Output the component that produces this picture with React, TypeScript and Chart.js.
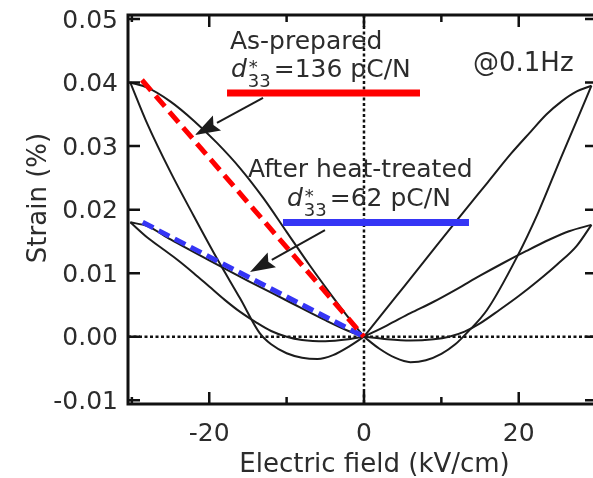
import { useEffect, useRef } from "react";
import { Chart, registerables } from "chart.js";

Chart.register(...registerables);

type P = [number, number];

// Electric field (kV/cm), Strain (%)
// As-prepared loop
const apLeftSteep: P[] = [
  [-30.2, 0.04], [-28, 0.0335], [-25, 0.0259], [-22, 0.019], [-19, 0.0123],
  [-16, 0.006], [-13.5, 0.0006], [-12, -0.0012], [-10, -0.0026], [-8, -0.0033],
  [-6, -0.0035], [-4, -0.0029], [-2, -0.0016], [0, 0],
];
const apLeftUpper: P[] = [
  [-30.2, 0.04], [-28, 0.0392], [-25, 0.037], [-22, 0.034], [-19, 0.0305],
  [-16, 0.0265], [-13, 0.0218], [-10, 0.0165], [-7, 0.0112], [-4, 0.0062],
  [-2, 0.003], [0, 0],
];
const apRightSteep: P[] = [
  [0, 0], [2, -0.0019], [4, -0.0033], [6, -0.004], [8, -0.0037], [10, -0.0027],
  [11.8, -0.0012], [13.3, 0.0006], [15.9, 0.0042], [19.8, 0.0126], [22.5, 0.0195],
  [25.4, 0.028], [27.5, 0.034], [29.4, 0.0395],
];
const apRightUpper: P[] = [
  [0, 0], [4, 0.0061], [8, 0.0122], [12, 0.0183], [16, 0.0243], [19, 0.0288],
  [21.5, 0.0322], [23.6, 0.035], [25.5, 0.037], [27.5, 0.0386], [29.4, 0.0395],
];
// After heat-treated loop
const htLeftUpper: P[] = [
  [-30.2, 0.018], [-28, 0.0174], [-25, 0.0153], [-20, 0.012], [-15, 0.0088],
  [-10, 0.0057], [-5, 0.0026], [-2, 0.0009], [0, 0],
];
const htLeftLower: P[] = [
  [-30.2, 0.018], [-28, 0.0156], [-26, 0.0138], [-24, 0.012], [-22, 0.01],
  [-20, 0.0079], [-18, 0.0058], [-16, 0.0039], [-14, 0.0023], [-12, 0.0009],
  [-10, 0.0], [-8, -0.0005], [-5, -0.0007], [-2, -0.0004], [0, 0],
];
const htRightUpper: P[] = [
  [0, 0], [3, 0.0018], [6, 0.0037], [9, 0.0055], [12, 0.0075], [15, 0.0096],
  [18, 0.0116], [21, 0.0135], [24, 0.0153], [26.5, 0.0166], [29.4, 0.0176],
];
const htRightLower: P[] = [
  [0, 0], [3, -0.0004], [6, -0.0006], [9, -0.0004], [11, 0.0], [13, 0.0008],
  [15, 0.0021], [17.5, 0.0042], [20, 0.0064], [22.5, 0.0088], [25, 0.0114],
  [27.5, 0.0143], [29.4, 0.0176],
];
// d33* slope lines
const apSlope: P[] = [[-28.7, 0.0404], [0, 0]];
const htSlope: P[] = [[-28.6, 0.018], [0, 0]];
// legend bars under the annotations
const apBar: P[] = [[-17.7, 0.03835], [7.24, 0.03835]];
const htBar: P[] = [[-10.47, 0.01797], [13.57, 0.01797]];
// arrows: from -> tip
const arrowFrom: P[] = [[-13.05, 0.03757], [-5.04, 0.01679]];
const arrowTo: P[] = [[-21.84, 0.03176], [-14.73, 0.01018]];

// ticks
const fieldTicks = [-30, -20, -10, 0, 10, 20];
const fieldLabels = [-20, 0, 20];
const strainTicks = [-0.01, 0, 0.01, 0.02, 0.03, 0.04, 0.05];

const TXT = "#2c2c2c";
const FONT = '"DejaVu Sans"';

const toXY = (arr: P[]) => arr.map(([x, y]) => ({ x, y }));

const curve = (arr: P[]) => ({
  data: toXY(arr),
  borderColor: "#1c1c1c",
  borderWidth: 2,
  pointRadius: 0,
  cubicInterpolationMode: "monotone" as const,
  fill: false,
});

const drawLabel = (
  ctx: CanvasRenderingContext2D,
  x: number,
  y: number,
  tail: string
) => {
  ctx.font = `italic 25px ${FONT}`;
  ctx.fillText("d", x, y);
  const w = ctx.measureText("d").width;
  ctx.font = `18px ${FONT}`;
  ctx.fillText("*", x + w + 2, y - 4);
  ctx.fillText("33", x + w + 1, y + 10);
  const w2 = ctx.measureText("33").width;
  ctx.font = `25px ${FONT}`;
  ctx.fillText(tail, x + w + w2 + 4, y);
};

const framePlugin = {
  id: "framePlugin",
  beforeDatasetsDraw(chart: any) {
    const { ctx, chartArea: a, scales } = chart;
    const x0 = scales.x.getPixelForValue(0);
    const y0 = scales.y.getPixelForValue(0);
    ctx.save();
    ctx.strokeStyle = "#111";
    ctx.lineWidth = 2.5;
    ctx.setLineDash([3, 2.5]);
    ctx.beginPath();
    ctx.moveTo(a.left, y0);
    ctx.lineTo(a.right, y0);
    ctx.moveTo(x0, a.top);
    ctx.lineTo(x0, a.bottom);
    ctx.stroke();
    ctx.restore();
  },
  afterDatasetsDraw(chart: any) {
    const { ctx, chartArea: a, scales } = chart;
    const sx = scales.x;
    const sy = scales.y;
    ctx.save();
    // arrows
    ctx.strokeStyle = "#1c1c1c";
    ctx.fillStyle = "#1c1c1c";
    ctx.lineWidth = 2;
    arrowFrom.forEach((f, i) => {
      const t = arrowTo[i];
      const x1 = sx.getPixelForValue(f[0]);
      const y1 = sy.getPixelForValue(f[1]);
      const x2 = sx.getPixelForValue(t[0]);
      const y2 = sy.getPixelForValue(t[1]);
      const ang = Math.atan2(y2 - y1, x2 - x1);
      const L = 25;
      const W = 8.5;
      const bx = x2 - L * Math.cos(ang);
      const by = y2 - L * Math.sin(ang);
      ctx.beginPath();
      ctx.moveTo(x1, y1);
      ctx.lineTo(bx, by);
      ctx.stroke();
      ctx.beginPath();
      ctx.moveTo(x2, y2);
      ctx.lineTo(bx + W * Math.sin(ang), by - W * Math.cos(ang));
      ctx.lineTo(bx + 4 * Math.cos(ang), by + 4 * Math.sin(ang));
      ctx.lineTo(bx - W * Math.sin(ang), by + W * Math.cos(ang));
      ctx.closePath();
      ctx.fill();
    });

    // annotation texts
    ctx.fillStyle = TXT;
    ctx.textAlign = "left";
    ctx.textBaseline = "alphabetic";
    ctx.font = `25px ${FONT}`;
    ctx.fillText("As-prepared", sx.getPixelForValue(-17.32), sy.getPixelForValue(0.04528));
    drawLabel(ctx, sx.getPixelForValue(-17.19), sy.getPixelForValue(0.04087), "=136 pC/N");
    ctx.font = `26px ${FONT}`;
    ctx.fillText("@0.1Hz", sx.getPixelForValue(14.09), sy.getPixelForValue(0.04182));
    ctx.font = `25px ${FONT}`;
    ctx.fillText("After heat-treated", sx.getPixelForValue(-14.99), sy.getPixelForValue(0.02513));
    drawLabel(ctx, sx.getPixelForValue(-9.95), sy.getPixelForValue(0.02057), "=62 pC/N");

    // frame
    ctx.strokeStyle = "#111";
    ctx.lineWidth = 3;
    ctx.beginPath();
    ctx.moveTo(a.right + 2, a.top);
    ctx.lineTo(a.left, a.top);
    ctx.lineTo(a.left, a.bottom);
    ctx.lineTo(a.right + 2, a.bottom);
    ctx.stroke();

    // inward ticks
    ctx.lineWidth = 2.5;
    ctx.beginPath();
    strainTicks.forEach((v) => {
      const py = sy.getPixelForValue(v);
      ctx.moveTo(a.left, py);
      ctx.lineTo(a.left + 12, py);
      ctx.moveTo(a.right, py);
      ctx.lineTo(a.right - 8, py);
    });
    fieldTicks.forEach((v) => {
      const px = sx.getPixelForValue(v);
      const len = fieldLabels.includes(v) ? 12 : 7;
      ctx.moveTo(px, a.bottom);
      ctx.lineTo(px, a.bottom - len);
      ctx.moveTo(px, a.top);
      ctx.lineTo(px, a.top + len);
    });
    ctx.stroke();

    // axis titles
    ctx.fillStyle = TXT;
    ctx.font = `26px ${FONT}`;
    ctx.textAlign = "center";
    ctx.textBaseline = "alphabetic";
    ctx.fillText("Electric field (kV/cm)", 374.5, 472);
    ctx.save();
    ctx.translate(39, 198);
    ctx.rotate(-Math.PI / 2);
    ctx.textBaseline = "middle";
    ctx.fillText("Strain (%)", 0, 0);
    ctx.restore();
    ctx.restore();
  },
};

export default function App() {
  const ref = useRef<HTMLCanvasElement | null>(null);
  useEffect(() => {
    if (!ref.current) return;
    const chart = new Chart(ref.current, {
      type: "line",
      data: {
        datasets: [
          {
            data: toXY(apSlope),
            borderColor: "#ff0000",
            borderWidth: 5,
            borderDash: [14, 7],
            pointRadius: 0,
            tension: 0,
          },
          {
            data: toXY(htSlope),
            borderColor: "#3535f5",
            borderWidth: 5,
            borderDash: [12, 6],
            pointRadius: 0,
            tension: 0,
          },
          {
            data: toXY(apBar),
            borderColor: "#ff0000",
            borderWidth: 7,
            pointRadius: 0,
          },
          {
            data: toXY(htBar),
            borderColor: "#3535f5",
            borderWidth: 7,
            pointRadius: 0,
          },
          curve(apLeftSteep),
          curve(apLeftUpper),
          curve(apRightSteep),
          curve(apRightUpper),
          curve(htLeftUpper),
          curve(htLeftLower),
          curve(htRightUpper),
          curve(htRightLower),
        ] as any,
      },
      options: {
        animation: false,
        responsive: false,
        maintainAspectRatio: false,
        layout: { padding: { top: 15, right: 0, bottom: 0, left: 0 } },
        plugins: {
          legend: { display: false },
          tooltip: { enabled: false },
          title: { display: false },
        },
        events: [],
        scales: {
          x: {
            type: "linear",
            min: -30.5,
            max: 29.6,
            grid: { display: false, drawTicks: false },
            border: { display: false },
            afterBuildTicks: (s: any) => {
              s.ticks = fieldTicks.map((v) => ({ value: v }));
            },
            afterFit: (s: any) => {
              s.height = 74;
              s.paddingLeft = 0;
              s.paddingRight = 0;
              s.paddingTop = 0;
              s.paddingBottom = 0;
            },
            ticks: {
              padding: 15,
              color: TXT,
              font: { family: FONT, size: 25, lineHeight: 1.2 },
              maxRotation: 0,
              autoSkip: false,
              callback: (v: any) => (fieldLabels.includes(Number(v)) ? String(v) : ""),
            },
          },
          y: {
            type: "linear",
            min: -0.01059,
            max: 0.05063,
            grid: { display: false, drawTicks: false },
            border: { display: false },
            afterBuildTicks: (s: any) => {
              s.ticks = strainTicks.map((v) => ({ value: v }));
            },
            afterFit: (s: any) => {
              s.width = 128;
              s.paddingLeft = 0;
              s.paddingRight = 0;
              s.paddingTop = 0;
              s.paddingBottom = 0;
            },
            ticks: {
              padding: 10,
              labelOffset: 2,
              color: TXT,
              autoSkip: false,
              font: { family: FONT, size: 25, lineHeight: 1.2 },
              callback: (v: any) => Number(v).toFixed(2),
            },
          },
        },
      },
      plugins: [framePlugin],
    });
    return () => chart.destroy();
  }, []);
  return (
    <div style={{ position: "absolute", left: 0, top: 0, width: 593, height: 478, background: "#fff" }}>
      <canvas ref={ref} width={593} height={478} style={{ display: "block" }} />
    </div>
  );
}
